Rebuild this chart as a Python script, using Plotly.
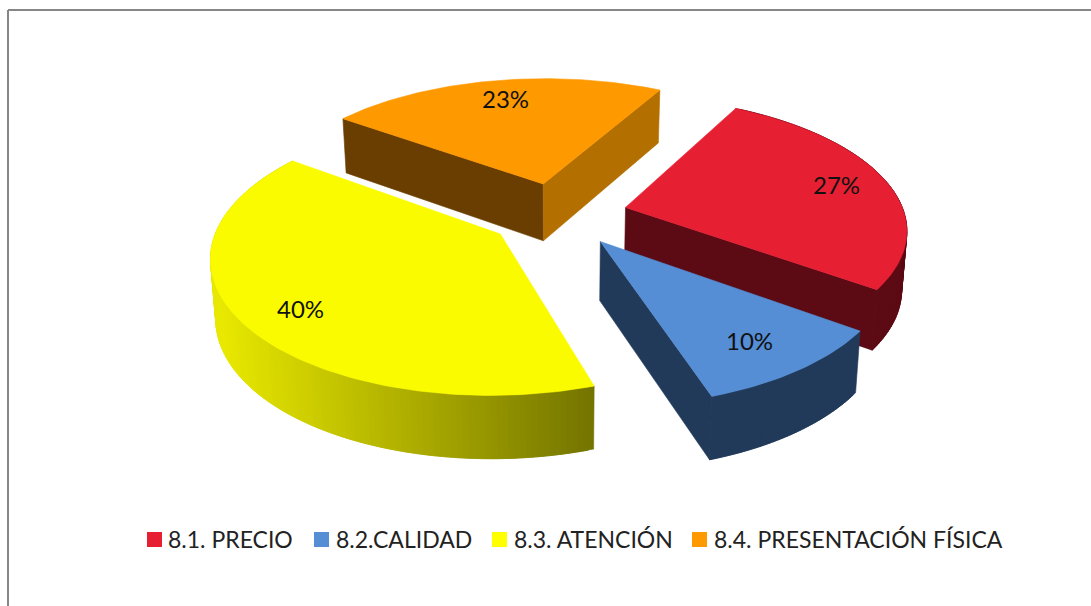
import math
import plotly.graph_objects as go

# Slices of the exploded pie, in drawing order of the legend
categories = ["8.1. PRECIO", "8.2.CALIDAD", "8.3. ATENCIÓN", "8.4. PRESENTACIÓN FÍSICA"]
percent_values = [27, 10, 40, 23]

top_colors = ["#e71f33", "#558ed5", "#fbfb00", "#ff9900"]
legend_colors = ["#e71f33", "#558ed5", "#ffff00", "#ff9900"]
side_colors = ["#5c0a14", "#223a5a", "#ffff00", "#6a3e00"]
rim_colors = ["#5c0a14", "#223a5a", None, "#b36f00"]

label_positions = [(836, 184), (749, 340), (300, 308), (505, 98)]
legend_squares = [147, 314, 492, 692]
legend_texts = [166, 334, 512, 712]

WIDTH, HEIGHT = 1091, 606
FONT = "Lato"

# Pie projection parameters (screen pixels)
CX, CY = 558, 214.5
RADIUS_X, RADIUS_Y = 279, 130
PERSPECTIVE_X = 0.147
PERSPECTIVE_Y = 0.153
EXPLODE = 0.25
START_ANGLE = 28.7
DEPTH = 58
DEPTH_TAPER = 0.985


def project(px, py):
    return (CX + RADIUS_X * px / (1 + PERSPECTIVE_X * py),
            CY - RADIUS_Y * py / (1 + PERSPECTIVE_Y * py))


def project_low(px, py):
    x, y = project(px, py)
    return CX + (x - CX) * DEPTH_TAPER, y + DEPTH * (1 - 0.08 * py)


def polygon(points, color):
    xs = [p[0] for p in points] + [points[0][0]]
    ys = [p[1] for p in points] + [points[0][1]]
    return go.Scatter(x=xs, y=ys, mode="lines", fill="toself", fillcolor=color,
                      line=dict(color=color, width=0.6), hoverinfo="skip", showlegend=False)


def mix(a, b, t):
    t = max(0, min(1, t))
    return "rgb(%d,%d,%d)" % tuple(round(a[i] + (b[i] - a[i]) * t) for i in range(3))


def slice_geometry(start, sweep):
    mid = math.radians(start + sweep / 2)
    ax, ay = EXPLODE * math.sin(mid), EXPLODE * math.cos(mid)
    steps = max(8, int(sweep))
    rim = []
    for i in range(steps + 1):
        a = math.radians(start + sweep * i / steps)
        rim.append((ax + math.sin(a), ay + math.cos(a)))
    return (ax, ay), rim


fig = go.Figure()

total = sum(percent_values)
sweeps = [v / total * 360 for v in percent_values]
starts = [START_ANGLE + sum(sweeps[:i]) for i in range(len(sweeps))]

# Back slices first so nearer ones overlap them
for idx in (3, 0, 2, 1):
    apex, rim = slice_geometry(starts[idx], sweeps[idx])

    if idx == 3:
        # Both radial walls of the rear slice face the viewer
        fig.add_trace(polygon([project(*apex), project(*rim[0]),
                               project_low(*rim[0]), project_low(*apex)], side_colors[idx]))
        fig.add_trace(polygon([project(*apex), project(*rim[-1]),
                               project_low(*rim[-1]), project_low(*apex)], rim_colors[idx]))
    else:
        # Outer wall as overlapping strips; only the yellow slice fades left to right
        for i in range(len(rim) - 1):
            a, b = rim[i], rim[min(i + 2, len(rim) - 1)]
            strip = [project(*a), project(*b), project_low(*b), project_low(*a)]
            if idx == 2:
                x_mid = (project(*rim[i])[0] + project(*rim[i + 1])[0]) / 2
                color = mix((232, 232, 0), (116, 116, 0), (x_mid - 220) / (593 - 220))
            else:
                color = side_colors[idx]
            fig.add_trace(polygon(strip, color))
        if idx != 2:
            # Near radial wall
            fig.add_trace(polygon([project(*apex), project(*rim[-1]),
                                   project_low(*rim[-1]), project_low(*apex)], side_colors[idx]))

    # Top face
    fig.add_trace(polygon([project(*apex)] + [project(*p) for p in rim], top_colors[idx]))

# Value labels
annotations = [
    dict(x=x, y=y, text=f"{v}%", showarrow=False, xref="x", yref="y",
         font=dict(family=FONT, size=24, color="#111111"))
    for v, (x, y) in zip(percent_values, label_positions)
]

# Frame along the top and left, then the legend row
shapes = [
    dict(type="line", xref="x", yref="y", x0=8, y0=10, x1=1091, y1=10,
         line=dict(color="#868686", width=2)),
    dict(type="line", xref="x", yref="y", x0=8, y0=10, x1=8, y1=606,
         line=dict(color="#868686", width=2)),
]
for name, color, sq, tx in zip(categories, legend_colors, legend_squares, legend_texts):
    shapes.append(dict(type="rect", xref="x", yref="y", x0=sq, x1=sq + 15, y0=532, y1=547,
                       fillcolor=color, line=dict(width=0)))
    annotations.append(dict(x=tx, y=539, text=name, showarrow=False, xanchor="left",
                            xref="x", yref="y",
                            font=dict(family=FONT, size=23, color="#222222")))

fig.update_layout(
    width=WIDTH, height=HEIGHT, margin=dict(l=0, r=0, t=0, b=0),
    paper_bgcolor="white", plot_bgcolor="white", showlegend=False,
    xaxis=dict(range=[0, WIDTH], visible=False, fixedrange=True),
    yaxis=dict(range=[HEIGHT, 0], visible=False, fixedrange=True),
    annotations=annotations, shapes=shapes,
)

fig.write_html("out.html")
